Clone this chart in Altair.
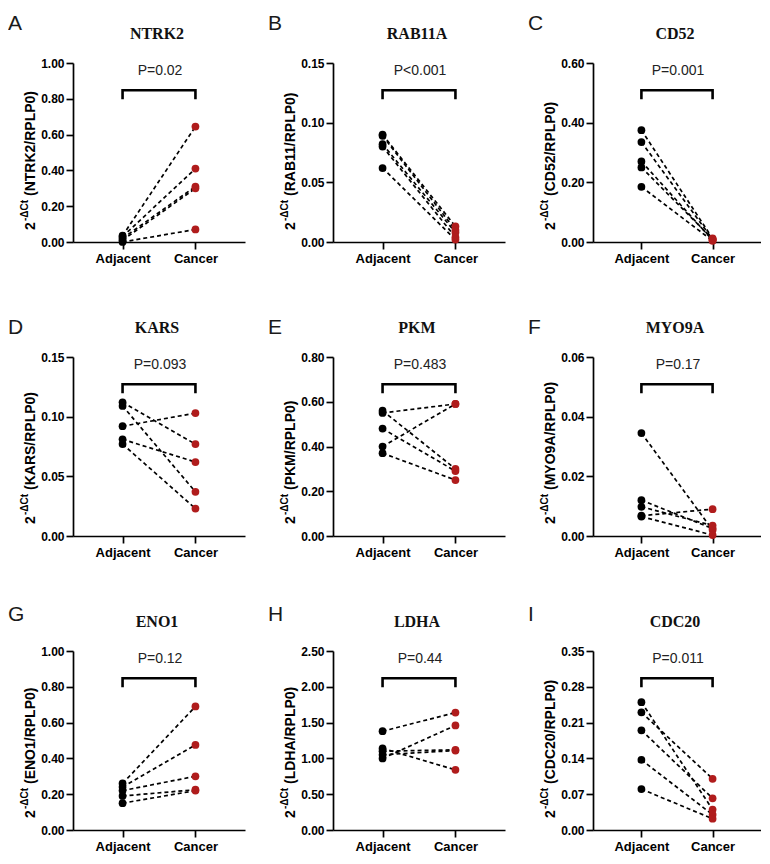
import altair as alt
import pandas as pd

letters = ["A", "B", "C", "D", "E", "F", "G", "H", "I"]
genes = ["NTRK2", "RAB11A", "CD52", "KARS", "PKM", "MYO9A", "ENO1", "LDHA", "CDC20"]
ratio_labels = ["(NTRK2/RPLP0)", "(RAB11/RPLP0)", "(CD52/RPLP0)", "(KARS/RPLP0)",
                "(PKM/RPLP0)", "(MYO9A/RPLP0)", "(ENO1/RPLP0)", "(LDHA/RPLP0)",
                "(CDC20/RPLP0)"]
p_values = ["P=0.02", "P<0.001", "P=0.001", "P=0.093", "P=0.483", "P=0.17",
            "P=0.12", "P=0.44", "P=0.011"]
groups = ["Adjacent", "Cancer"]

y_ticks = [
    [0.0, 0.2, 0.4, 0.6, 0.8, 1.0],
    [0.0, 0.05, 0.10, 0.15],
    [0.0, 0.2, 0.4, 0.6],
    [0.0, 0.05, 0.10, 0.15],
    [0.0, 0.2, 0.4, 0.6, 0.8],
    [0.0, 0.02, 0.04, 0.06],
    [0.0, 0.2, 0.4, 0.6, 0.8, 1.0],
    [0.0, 0.5, 1.0, 1.5, 2.0, 2.5],
    [0.0, 0.07, 0.14, 0.21, 0.28, 0.35],
]

adjacent = [
    [0.035, 0.03, 0.02, 0.01, 0.0],
    [0.090, 0.089, 0.082, 0.080, 0.062],
    [0.375, 0.335, 0.27, 0.25, 0.185],
    [0.112, 0.109, 0.092, 0.081, 0.077],
    [0.56, 0.55, 0.48, 0.40, 0.37],
    [0.0345, 0.012, 0.0098, 0.0068, 0.0065],
    [0.26, 0.24, 0.22, 0.19, 0.15],
    [1.38, 1.14, 1.10, 1.05, 1.00],
    [0.25, 0.23, 0.195, 0.137, 0.08],
]
cancer = [
    [0.645, 0.41, 0.31, 0.30, 0.07],
    [0.013, 0.010, 0.008, 0.004, 0.002],
    [0.012, 0.009, 0.006, 0.010, 0.004],
    [0.077, 0.037, 0.103, 0.062, 0.023],
    [0.30, 0.59, 0.29, 0.59, 0.25],
    [0.002, 0.0025, 0.0035, 0.009, 0.0003],
    [0.69, 0.475, 0.30, 0.225, 0.22],
    [1.64, 0.84, 1.12, 1.11, 1.46],
    [0.04, 0.10, 0.062, 0.03, 0.022],
]

WIDTHS = [172, 172, 168]
H = 179
letter_y = [-50, -50, -50, -40, -40, -40, -47, -47, -47]
RED = "#B01C1C"
one = pd.DataFrame({"k": [0]})


def panel(i):
    W = WIDTHS[i % 3]
    ymax = y_ticks[i][-1]
    rows = []
    for j, (a, c) in enumerate(zip(adjacent[i], cancer[i])):
        rows.append({"pair": j, "group": groups[0], "value": a})
        rows.append({"pair": j, "group": groups[1], "value": c})
    df = pd.DataFrame(rows)

    xs = alt.X("group:N", sort=groups,
               scale=alt.Scale(type="point", domain=groups, padding=0.68, align=0.5),
               axis=alt.Axis(title=None, labelAngle=0, labelFontSize=13, labelPadding=3))
    ys = alt.Y("value:Q",
               scale=alt.Scale(domain=[0, ymax], nice=False, zero=True),
               axis=alt.Axis(title=None, values=y_ticks[i], format=".2f",
                             labelFontSize=12, labelPadding=2))

    lines = alt.Chart(df).mark_line(
        color="black", strokeDash=[4, 3], strokeWidth=1.7
    ).encode(x=xs, y=ys, detail="pair:N")

    pts = alt.Chart(df).mark_circle(size=60, opacity=1).encode(
        x=xs, y=ys,
        color=alt.Color("group:N", scale=alt.Scale(domain=groups, range=["black", RED]),
                        legend=None),
    )

    bdf = pd.DataFrame({
        "group": [groups[0], groups[0], groups[1], groups[1]],
        "value": [0.805 * ymax, 0.848 * ymax, 0.848 * ymax, 0.805 * ymax],
        "o": [0, 1, 2, 3],
    })
    bracket = alt.Chart(bdf).mark_line(color="black", strokeWidth=2.6, strokeCap="square",
                                       strokeJoin="miter").encode(
        x=xs, y=ys, order="o:Q")

    ptxt = alt.Chart(one).mark_text(
        text=p_values[i], font="Liberation Sans", fontSize=14, color="#222",
        align="center", baseline="middle"
    ).encode(x=alt.value(W / 2 + 1), y=alt.value(8))

    title = alt.Chart(one).mark_text(
        text=genes[i], font="Liberation Serif", fontWeight="bold", fontSize=16,
        color="#111", align="center", baseline="middle"
    ).encode(x=alt.value(W / 2 - 2), y=alt.value(-29))

    letter = alt.Chart(one).mark_text(
        text=letters[i], font="Liberation Sans", fontSize=21, color="#1a1a1a",
        align="left", baseline="top"
    ).encode(x=alt.value(-65), y=alt.value(letter_y[i]))

    t2 = alt.Chart(one).mark_text(
        text="2", font="Liberation Sans", fontWeight="bold", fontSize=14, angle=270,
        align="left", baseline="alphabetic", color="black"
    ).encode(x=alt.value(-38), y=alt.value(167))
    tsup = alt.Chart(one).mark_text(
        text="-ΔCt", font="Liberation Sans", fontWeight="bold", fontSize=10, angle=270,
        align="left", baseline="alphabetic", color="black"
    ).encode(x=alt.value(-45), y=alt.value(158))
    tmain = alt.Chart(one).mark_text(
        text=ratio_labels[i], font="Liberation Sans", fontWeight="bold", fontSize=14,
        angle=270, align="left", baseline="alphabetic", color="black"
    ).encode(x=alt.value(-38), y=alt.value(133))

    bound = alt.Chart(one).mark_rule(opacity=0).encode(
        x=alt.value(-65), y=alt.value(-55), y2=alt.value(H + 24))

    return alt.layer(bound, lines, pts, bracket, ptxt, title, letter, t2, tsup, tmain
                     ).properties(width=W, height=H)


rows = []
for r in range(3):
    rows.append(alt.hconcat(*[panel(r * 3 + c) for c in range(3)], spacing=23))

chart = alt.vconcat(*rows, spacing=36).properties(
    padding=0
).configure_view(stroke=None).configure_axis(
    domainColor="black", domainWidth=1.7, tickColor="black", tickWidth=1.7,
    tickSize=7, labelFont="Liberation Sans", labelFontWeight="bold",
    labelColor="black", grid=False
)

chart.save("out.html", embed_options={"renderer": "svg", "actions": False})
